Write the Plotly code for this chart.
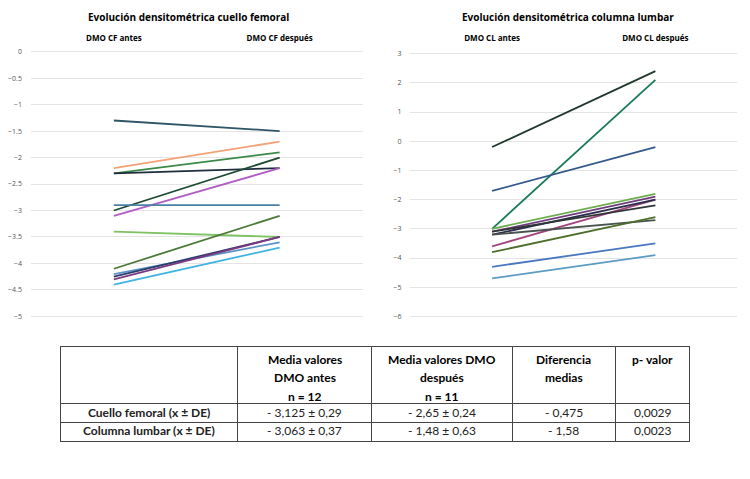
import plotly.graph_objects as go

# cuello femoral (CF)
cf_cats = ["DMO CF antes", "DMO CF después"]
cf_antes = [-1.3, -2.2, -2.3, -2.3, -3.0, -3.1, -2.9, -3.4, -4.1, -4.2, -4.25, -4.3, -4.4]
cf_despues = [-1.5, -1.7, -1.9, -2.2, -2.0, -2.2, -2.9, -3.5, -3.1, -3.6, -3.5, -3.5, -3.7]
cf_colors = ["#2e5667", "#f2a274", "#3b8a47", "#1e2d3d", "#1d4a32", "#b25cc6", "#4a80a3",
             "#7fc263", "#4b7a38", "#5a93c8", "#2b3d6b", "#7a3a82", "#3fb3e2"]

# columna lumbar (CL)
cl_cats = ["DMO CL antes", "DMO CL después"]
cl_antes = [-0.2, -3.0, -1.7, -3.0, -3.1, -3.6, -3.2, -3.1, -3.2, -3.8, -4.3, -4.7]
cl_despues = [2.4, 2.1, -0.2, -1.8, -1.9, -2.0, -2.0, -2.2, -2.7, -2.6, -3.5, -3.9]
cl_colors = ["#1f3a2c", "#1a7a58", "#35598a", "#6cae4f", "#6e3b7e", "#a3457e",
             "#2a2d4d", "#303535", "#4a5250", "#4e6e2c", "#4a78c0", "#5a9cc4"]

# tabla
tabla_header = [[], ["Media valores", "DMO antes", "n = 12"], ["Media valores DMO", "después", "n = 11"],
                ["Diferencia", "medias"], ["p- valor"]]
tabla_filas = ["Cuello femoral (x ± DE)", "Columna lumbar (x ± DE)"]
tabla_antes = ["- 3,125 ± 0,29", "- 3,063 ± 0,37"]
tabla_despues = ["- 2,65 ± 0,24", "- 1,48 ± 0,63"]
tabla_dif = ["- 0,475", "- 1,58"]
tabla_p = ["0,0029", "0,0023"]

col_widths = [177, 134, 141, 103, 75]
tab_x0, tab_x1 = 0.0693, 0.9093
tab_top = 339          # px from top of figure
head_h, row_h = 57, 19

fig = go.Figure()

for a, d, c in zip(cf_antes, cf_despues, cf_colors):
    fig.add_trace(go.Scatter(x=cf_cats, y=[a, d], mode="lines",
                             line=dict(color=c, width=1.8), xaxis="x", yaxis="y"))

for a, d, c in zip(cl_antes, cl_despues, cl_colors):
    fig.add_trace(go.Scatter(x=cl_cats, y=[a, d], mode="lines",
                             line=dict(color=c, width=1.8), xaxis="x2", yaxis="y2"))

columnas = [["<b>%s</b>" % f for f in tabla_filas], tabla_antes, tabla_despues, tabla_dif, tabla_p]

# table grid (text is laid on top with annotations, plotly pads cells too much)
fig.add_trace(go.Table(
    domain=dict(x=[tab_x0, tab_x1], y=[0.06, 1 - tab_top / 479]),
    columnwidth=col_widths,
    header=dict(values=[""] * 5, height=head_h, fill_color="white",
                line=dict(color="#444", width=1)),
    cells=dict(values=[[""] * len(tabla_filas)] * 5, height=row_h, fill_color="white",
               line=dict(color="#444", width=1)),
))

annotations = [
    dict(text="<b>Evolución densitométrica cuello femoral</b>", x=0.24, y=0.985,
         xref="paper", yref="paper", xanchor="center", yanchor="middle", showarrow=False,
         font=dict(family="Open Sans", size=10, color="black")),
    dict(text="<b>Evolución densitométrica columna lumbar</b>", x=0.7467, y=0.985,
         xref="paper", yref="paper", xanchor="center", yanchor="middle", showarrow=False,
         font=dict(family="Open Sans", size=10, color="black")),
]

total = sum(col_widths)
left = tab_x0
for w, lines, col in zip(col_widths, tabla_header, columnas):
    cx = left + (tab_x1 - tab_x0) * w / total / 2
    for i, t in enumerate(lines):
        annotations.append(dict(text="<b>%s</b>" % t, x=cx, y=1 - (tab_top + 13 + 19 * i) / 479,
                                xref="paper", yref="paper", xanchor="center", yanchor="middle",
                                showarrow=False,
                                font=dict(family="Lato", size=12, color="black")))
    for j, t in enumerate(col):
        yc = tab_top + head_h + row_h * j + row_h / 2
        annotations.append(dict(text=t, x=cx, y=1 - yc / 479,
                                xref="paper", yref="paper", xanchor="center", yanchor="middle",
                                showarrow=False,
                                font=dict(family="Lato", size=12, color="#222")))
    left += (tab_x1 - tab_x0) * w / total

xax = dict(type="category", side="top", range=[-0.5, 1.5], showgrid=False,
           showline=False, zeroline=False, ticks="",
           tickfont=dict(family="Open Sans", size=8, color="black", weight="bold"))
yax = dict(showgrid=True, gridcolor="#e4e4e4", gridwidth=1, zeroline=False,
           showline=False, ticks="", ticklabelstandoff=8,
           tickfont=dict(family="Open Sans", size=7, color="#555"))

fig.update_layout(
    width=750, height=479,
    margin=dict(l=0, r=0, t=0, b=0),
    paper_bgcolor="white", plot_bgcolor="white",
    showlegend=False,
    xaxis=dict(xax, domain=[0.0293, 0.472], anchor="y", ticklabelstandoff=3),
    yaxis=dict(yax, domain=[0.3438, 0.9234], range=[-5.1, 0.1], dtick=0.5, tick0=0, anchor="x"),
    xaxis2=dict(xax, domain=[0.536, 0.972], anchor="y2", ticklabelstandoff=7),
    yaxis2=dict(yax, domain=[0.3488, 0.9143], range=[-6.1, 3.1], dtick=1, tick0=0, anchor="x2"),
    annotations=annotations,
)

fig.write_html("out.html")
